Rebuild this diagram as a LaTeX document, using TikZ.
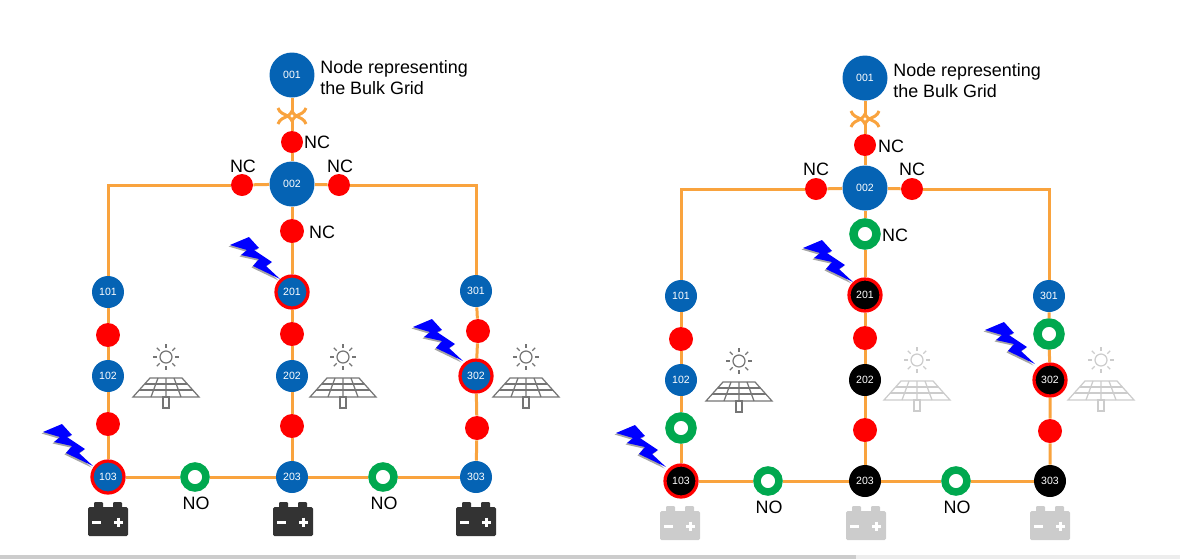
\documentclass[tikz,border=0pt]{standalone}
\usepackage{fontspec}
\setmainfont{Liberation Sans}
\definecolor{wireorange}{HTML}{F9A33E}
\definecolor{gridblue}{HTML}{0563B4}
\definecolor{ringgreen}{HTML}{00A84F}
\definecolor{batdark}{HTML}{333333}
\definecolor{fadegrey}{HTML}{CCCCCC}
\definecolor{panelgrey}{HTML}{757575}
\tikzset{
  pics/solar/.style={code={
    \draw[#1, line width=0.025cm] (0,0) circle (6);
    \foreach \a in {0,45,...,315} {\draw[#1, line width=0.025cm] (\a:9) -- (\a:13);}
    \draw[#1, line width=0.025cm] (-16,21) -- (16,21) -- (33,40) -- (-33,40) -- cycle;
    \draw[#1, line width=0.025cm] (-8,21) -- (-15,40) (0,21) -- (0,40) (8,21) -- (15,40);
    \draw[#1, line width=0.025cm] (-21.4,27) -- (21.4,27) (-26.7,33) -- (26.7,33);
    \draw[#1, line width=0.025cm] (-3,40) rectangle (3,51);
  }},
  pics/battery/.style={code={
    \fill[#1, rounded corners=0.03cm] (-20,0) rectangle (20,29);
    \fill[#1, rounded corners=0.02cm] (-14,-5) rectangle (-5,1);
    \fill[#1, rounded corners=0.02cm] (5,-5) rectangle (14,1);
    \draw[white, line width=0.06cm] (-16,15) -- (-7,15) (6,15) -- (15,15) (10.5,10.5) -- (10.5,19.5);
  }},
  pics/bolt/.style={code={
    \fill[gray!70, shift={(-1.5,1.5)}] (-50,-34) -- (-31,-42) -- (-21,-31) -- (-26,-29) -- (-8,-17) -- (-14,-13) -- (0,0) -- (-27,-13) -- (-21,-20) -- (-39,-24) -- (-33,-29) -- cycle;
    \fill[blue] (-50,-34) -- (-31,-42) -- (-21,-31) -- (-26,-29) -- (-8,-17) -- (-14,-13) -- (0,0) -- (-27,-13) -- (-21,-20) -- (-39,-24) -- (-33,-29) -- cycle;
  }},
  pics/coupler/.style={code={
    \draw[wireorange, line width=0.06cm] (-14,-8) .. controls (-12.5,-3) and (-8,-2) .. (-4,0) .. controls (-2,1) and (-1,3.5) .. (0,5) .. controls (1,3.5) and (2,1) .. (4,0) .. controls (8,-2) and (12.5,-3) .. (14,-8);
    \draw[wireorange, line width=0.06cm] (-14,8) .. controls (-12.5,3) and (-8,2) .. (-4,0) .. controls (-2,-1) and (-1,-3.5) .. (0,-5) .. controls (1,-3.5) and (2,-1) .. (4,0) .. controls (8,2) and (12.5,3) .. (14,8);
  }}
}
\begin{document}
\begin{tikzpicture}[x=0.02cm, y=-0.02cm,
  wire/.style={draw=wireorange, line width=0.06cm},
  busnode/.style={circle, inner sep=0pt, text=white, font=\fontsize{6}{6}\selectfont, minimum size=0.64cm},
  bluenode/.style={busnode, fill=gridblue},
  blacknode/.style={busnode, fill=black},
  bignode/.style={minimum size=0.9cm},
  faulted/.style={draw=red, line width=0.065cm, minimum size=0.64cm},
  closedsw/.style={circle, fill=red, inner sep=0pt, minimum size=0.48cm},
  opensw/.style={circle, draw=ringgreen, fill=white, line width=0.17cm, inner sep=0pt, minimum size=0.46cm},
  opensmall/.style={line width=0.15cm, minimum size=0.44cm},
  tag/.style={inner sep=0pt, font=\fontsize{10.2}{12}\selectfont}]
\useasboundingbox (0,0) rectangle (1180,559);
\fill[fadegrey] (0,555) rectangle (856,559);
\fill[black!7] (856,555) rectangle (1180,559);
% left network
\node[bluenode, bignode] (L001) at (292,75) {001};
\node[bluenode, bignode] (L002) at (292,184) {002};
\node[bluenode] (L101) at (108,292) {101};
\node[bluenode] (L102) at (108,376) {102};
\node[bluenode, faulted] (L103) at (108,477) {103};
\node[bluenode, faulted] (L201) at (292,292) {201};
\node[bluenode] (L202) at (292,376) {202};
\node[bluenode] (L203) at (292,477) {203};
\node[bluenode] (L301) at (476,291) {301};
\node[bluenode, faulted] (L302) at (476,376) {302};
\node[bluenode] (L303) at (476,477) {303};
\node[closedsw, minimum size=0.44cm] (LS0) at (292,142) {};
\node[closedsw, minimum size=0.44cm] (LSa) at (242,185) {};
\node[closedsw, minimum size=0.44cm] (LSb) at (339,185) {};
\node[closedsw] (LSc) at (292,231) {};
\node[closedsw] (LS1) at (108,335) {};
\node[closedsw] (LS2) at (108,424) {};
\node[closedsw] (LS3) at (292,334) {};
\node[closedsw] (LS4) at (292,426) {};
\node[closedsw] (LS5) at (478,331) {};
\node[closedsw] (LS6) at (477,428) {};
\node[opensw, opensmall] (LO1) at (195,477) {};
\node[opensw, opensmall] (LO2) at (383,477) {};
\coordinate (LCa) at (292,111);
\coordinate (LCb) at (292,121);
\draw[wire] (L001) -- (LCa);
\draw[wire] (LCb) -- (LS0) -- (L002) -- (LSc) -- (L201) -- (LS3) -- (L202) -- (LS4) -- (L203);
\draw[wire] (L002) -- (LSa);
\draw[wire] (L002) -- (LSb);
\draw[wire] (LSa) -| (L101);
\draw[wire] (LSb) -| (L301);
\draw[wire] (L101) -- (LS1) -- (L102) -- (LS2) -- (L103);
\draw[wire] (L301) -- (LS5) -- (L302) -- (LS6) -- (L303);
\draw[wire] (L103) -- (LO1) -- (L203) -- (LO2) -- (L303);
\pic at (292,116) {coupler};
\node[tag, anchor=west, align=left] (Lbulk) at (320,78) {Node representing\\the Bulk Grid};
\node[tag] (LN1) at (317,142) {NC};
\node[tag] (LN2) at (243,166) {NC};
\node[tag] (LN3) at (340,166) {NC};
\node[tag] (LN4) at (322,232) {NC};
\node[tag] (LN5) at (196,503) {NO};
\node[tag] (LN6) at (384,503) {NO};
\pic at (93,466) {bolt};
\pic at (280,279) {bolt};
\pic at (463,361) {bolt};
\pic at (166,357) {solar=panelgrey};
\pic at (343,357) {solar=panelgrey};
\pic at (526,357) {solar=panelgrey};
\pic at (108,507) {battery=batdark};
\pic at (293,507) {battery=batdark};
\pic at (476,507) {battery=batdark};
% right network
\node[bluenode, bignode] (R001) at (865,78) {001};
\node[bluenode, bignode] (R002) at (865,188) {002};
\node[bluenode] (R101) at (681,296) {101};
\node[bluenode] (R102) at (681,380) {102};
\node[blacknode, faulted] (R103) at (681,481) {103};
\node[blacknode, faulted] (R201) at (865,295) {201};
\node[blacknode] (R202) at (865,380) {202};
\node[blacknode] (R203) at (865,481) {203};
\node[bluenode] (R301) at (1049,296) {301};
\node[blacknode, faulted] (R302) at (1050,380) {302};
\node[blacknode] (R303) at (1050,481) {303};
\node[closedsw, minimum size=0.44cm] (RS0) at (865,145) {};
\node[closedsw, minimum size=0.44cm] (RSa) at (816,189) {};
\node[closedsw, minimum size=0.44cm] (RSb) at (912,189) {};
\node[opensw] (RSc) at (865,234) {};
\node[closedsw] (RS1) at (681,339) {};
\node[opensw] (RS2) at (681,428) {};
\node[closedsw] (RS3) at (865,338) {};
\node[closedsw] (RS4) at (865,430) {};
\node[opensw] (RS5) at (1049,334) {};
\node[closedsw] (RS6) at (1050,431) {};
\node[opensw, opensmall] (RO1) at (768,481) {};
\node[opensw, opensmall] (RO2) at (956,481) {};
\coordinate (RCa) at (865,114);
\coordinate (RCb) at (865,124);
\draw[wire] (R001) -- (RCa);
\draw[wire] (RCb) -- (RS0) -- (R002) -- (RSc) -- (R201) -- (RS3) -- (R202) -- (RS4) -- (R203);
\draw[wire] (R002) -- (RSa);
\draw[wire] (R002) -- (RSb);
\draw[wire] (RSa) -| (R101);
\draw[wire] (RSb) -| (R301);
\draw[wire] (R101) -- (RS1) -- (R102) -- (RS2) -- (R103);
\draw[wire] (R301) -- (RS5) -- (R302) -- (RS6) -- (R303);
\draw[wire] (R103) -- (RO1) -- (R203) -- (RO2) -- (R303);
\pic at (865,119) {coupler};
\node[tag, anchor=west, align=left] (Rbulk) at (893,81) {Node representing\\the Bulk Grid};
\node[tag] (RN1) at (891,146) {NC};
\node[tag] (RN2) at (816,169) {NC};
\node[tag] (RN3) at (912,169) {NC};
\node[tag] (RN4) at (895,235) {NC};
\node[tag] (RN5) at (769,507) {NO};
\node[tag] (RN6) at (957,507) {NO};
\pic at (666,467) {bolt};
\pic at (853,282) {bolt};
\pic at (1035,364) {bolt};
\pic at (739,361) {solar=panelgrey};
\pic at (917,360) {solar=fadegrey};
\pic at (1101,360) {solar=fadegrey};
\pic at (680,511) {battery=fadegrey};
\pic at (866,511) {battery=fadegrey};
\pic at (1050,511) {battery=fadegrey};
\end{tikzpicture}
\end{document}
